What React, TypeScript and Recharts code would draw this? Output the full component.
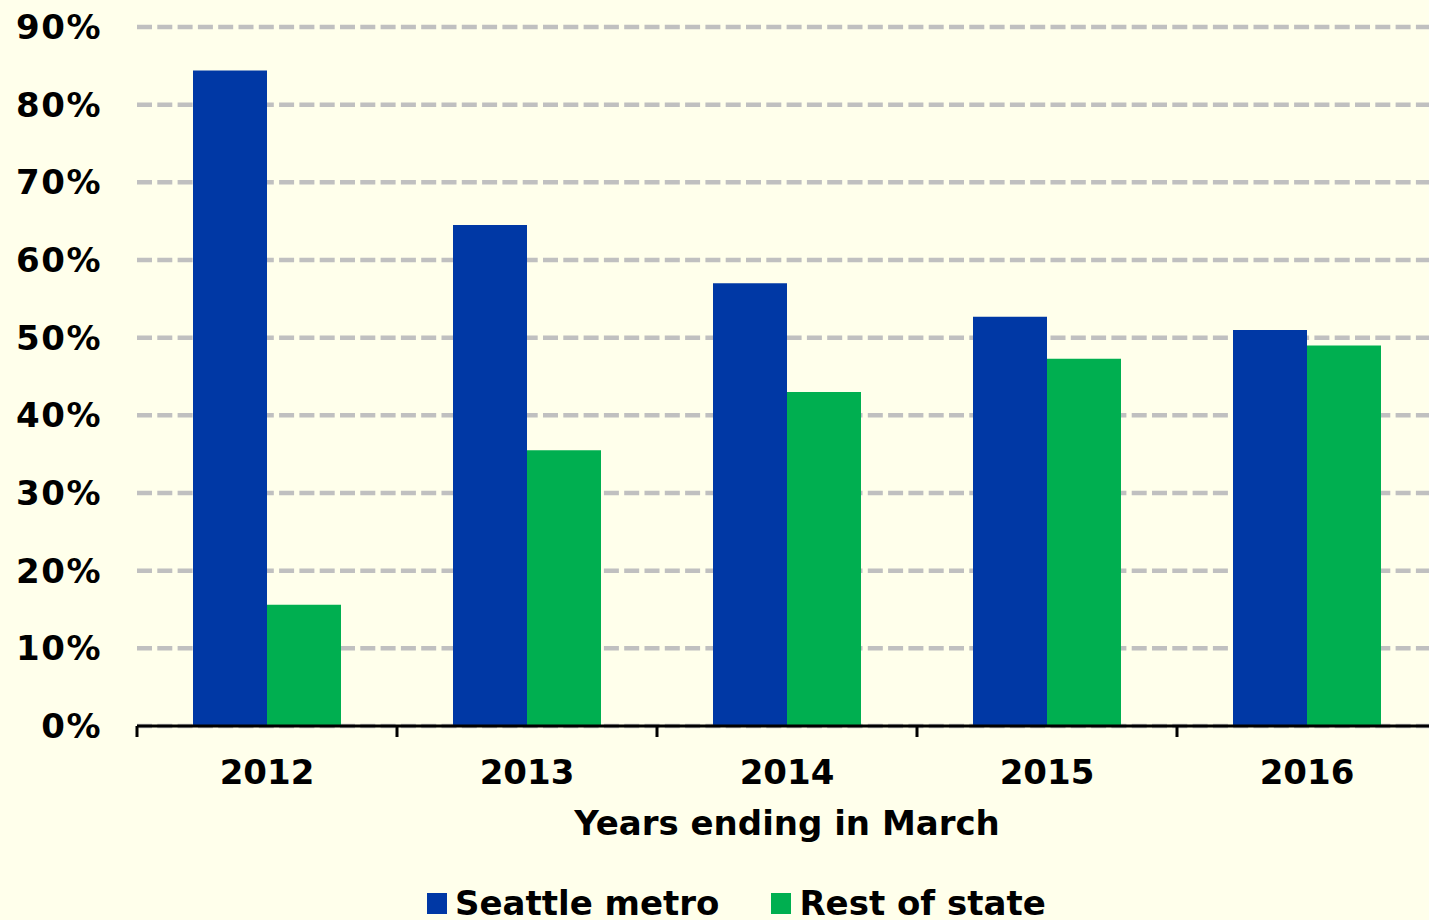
import React from 'react';
import { BarChart, Bar, XAxis, YAxis, CartesianGrid, Legend, Label } from 'recharts';

const years = ['2012', '2013', '2014', '2015', '2016'];
const seattleMetro = [84.4, 64.5, 57.0, 52.7, 51.0];
const restOfState = [15.6, 35.5, 43.0, 47.3, 49.0];
const yTicks = [0, 10, 20, 30, 40, 50, 60, 70, 80, 90];

const seriesInfo = [
  { key: 'seattle', name: 'Seattle metro', color: '#0038A5' },
  { key: 'rest', name: 'Rest of state', color: '#00AF50' },
];

const data = years.map((year, i) => ({
  year,
  seattle: seattleMetro[i],
  rest: restOfState[i],
}));

const FONT = '"DejaVu Sans", Verdana, sans-serif';

const YearTick = (props: any) => {
  const { x, y, payload } = props;
  const half = payload && payload.offset ? payload.offset : 130;
  return (
    <g>
      <line x1={x - half} x2={x - half} y1={y} y2={y + 11} stroke="#000" strokeWidth={3} />
      <text x={x} y={y + 58} textAnchor="middle" fontFamily={FONT} fontWeight="bold" fontSize={34} fill="#000">
        {payload.value}
      </text>
    </g>
  );
};

const LegendBox = () => (
  <div style={{ display: 'flex', alignItems: 'center', paddingLeft: 427, paddingTop: 40, height: 34, fontFamily: FONT, fontWeight: 'bold', fontSize: 34, lineHeight: '34px', color: '#000' }}>
    {seriesInfo.map((s, i) => (
      <div key={s.key} style={{ display: 'flex', alignItems: 'center', marginRight: i === 0 ? 52 : 0 }}>
        <span style={{ display: 'inline-block', width: 20, height: 21, background: s.color, marginRight: 8 }} />
        <span>{s.name}</span>
      </div>
    ))}
  </div>
);

const App: React.FC = () => {
  return (
    <div style={{ position: 'absolute', left: 0, top: 0, width: 1429, height: 920, overflow: 'hidden', background: '#FFFFEB' }}>
      <BarChart
        width={1437}
        height={920}
        data={data}
        margin={{ top: 27, right: 0, left: 0, bottom: 0 }}
        barCategoryGap={56}
        barGap={0}
      >
        <CartesianGrid vertical={false} stroke="#C0C0C0" strokeWidth={4.5} strokeDasharray="15 5.3" />
        <XAxis
          dataKey="year"
          height={120}
          axisLine={{ stroke: '#000', strokeWidth: 3 }}
          tickLine={false}
          tickSize={0}
          tickMargin={0}
          interval={0}
          tick={<YearTick />}
        >
          <Label
            value="Years ending in March"
            position="insideBottom"
            offset={11}
            style={{ fontFamily: FONT, fontWeight: 'bold', fontSize: 34, fill: '#000' }}
          />
        </XAxis>
        <YAxis
          width={137}
          domain={[0, 90]}
          ticks={yTicks}
          interval={0}
          axisLine={false}
          tickLine={false}
          tickSize={0}
          tickMargin={35}
          tickFormatter={(v) => `${v}%`}
          tick={{ fontFamily: FONT, fontWeight: 'bold', fontSize: 34, fill: '#000', letterSpacing: 1.5 }}
        />
        <Legend verticalAlign="bottom" height={74} content={<LegendBox />} />
        {seriesInfo.map((s) => (
          <Bar key={s.key} dataKey={s.key} name={s.name} fill={s.color} isAnimationActive={false} />
        ))}
      </BarChart>
    </div>
  );
};

export default App;
